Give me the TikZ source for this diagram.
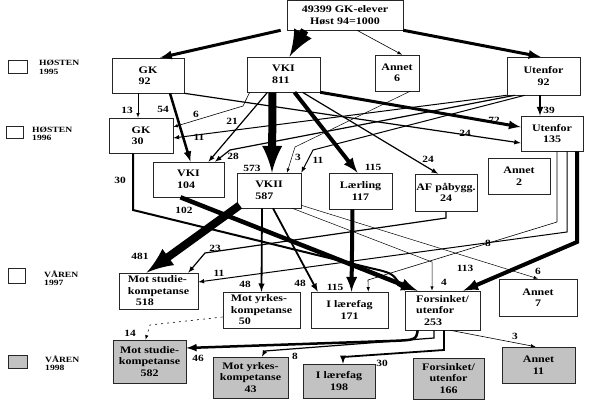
\documentclass[tikz,border=0pt]{standalone}
\usepackage{fontspec}
\setmainfont{Liberation Serif}[FakeStretch=1.2]
\tikzset{
  boks/.style={draw=black!85, line width=0.6pt, align=center, inner sep=1pt,
    font=\bfseries\fontsize{10}{11.5}\selectfont},
  graaboks/.style={boks, fill=black!24},
  tall/.style={font=\bfseries\fontsize{9.5}{9.5}\selectfont, inner sep=0pt},
  merke/.style={font=\bfseries\fontsize{8}{8.5}\selectfont, align=left, anchor=west, inner sep=0pt},
  strom/.style={-latex, line width=#1},
  strom/.default=0.6pt
}
\begin{document}
\begin{tikzpicture}[x=1pt, y=-1pt]
    \useasboundingbox (0,0) rectangle (589,403);

    %Tegnforklaring
    \node[boks, minimum width=19pt, minimum height=13pt] (lg95) at (17.5,66.5) {};
    \node[merke] (h95) at (39,67.5) {HØSTEN\\1995};
    \node[boks, minimum width=17pt, minimum height=12pt] (lg96) at (14.5,132) {};
    \node[merke] (h96) at (32,134) {HØSTEN\\1996};
    \node[boks, minimum width=17pt, minimum height=15pt] (lg97) at (16.5,275.5) {};
    \node[merke] (v97) at (44,278) {VÅREN\\1997};
    \node[graaboks, minimum width=19pt, minimum height=13pt] (lg98) at (17.5,361.5) {};
    \node[merke] (v98) at (45,363) {VÅREN\\1998};

    %Høst 94
    \node[boks, minimum width=116pt, minimum height=30pt] (top) at (345,15) {49399 GK-elever\\Høst 94=1000};

    %Høsten 1995
    \node[boks, align=left, minimum width=72pt, minimum height=35pt] (gk92) at (148,75.5) {GK\\92};
    \node[boks, align=left, minimum width=73pt, minimum height=35pt] (vki811) at (283.5,74.5) {VKI\\811};
    \node[boks, minimum width=44pt, minimum height=36pt] (annet6) at (397,73) {Annet\\6};
    \node[boks, minimum width=73pt, minimum height=38pt] (ut92) at (543.5,76) {Utenfor\\92};

    %Høsten 1996
    \node[boks, align=left, minimum width=64pt, minimum height=35pt] (gk30) at (141,135.5) {GK\\30};
    \node[boks, minimum width=62pt, minimum height=35pt] (ut135) at (552,133.5) {Utenfor\\135};
    \node[boks, align=left, minimum width=71pt, minimum height=35pt] (vki104) at (188.5,179.5) {VKI\\104};
    \node[boks, align=left, minimum width=64pt, minimum height=35pt] (vkii) at (269,190.5) {VKII\\587};
    \node[boks, minimum width=63pt, minimum height=36pt] (laer) at (360.5,191) {Lærling\\117};
    \node[boks, minimum width=62pt, minimum height=37pt] (afp) at (446,192.5) {AF påbygg.\\24};
    \node[boks, minimum width=62pt, minimum height=36pt] (annet2) at (519,176) {Annet\\2};

    %Våren 1997
    \node[boks, align=left, minimum width=79pt, minimum height=36pt] (ms518) at (158.5,291) {Mot studie-\\kompetanse\\\hspace{8pt}518};
    \node[boks, align=left, minimum width=77pt, minimum height=36pt] (my50) at (261.5,310) {Mot yrkes-\\kompetanse\\\hspace{8pt}50};
    \node[boks, minimum width=77pt, minimum height=36pt] (il171) at (349.5,310) {I lærefag\\171};
    \node[boks, align=left, minimum width=75pt, minimum height=39pt] (fu253) at (442.5,310.5) {Forsinket/\\utenfor\\\hspace{8pt}253};
    \node[boks, minimum width=78pt, minimum height=37pt] (annet7) at (538,297.5) {Annet\\7};

    %Våren 1998
    \node[graaboks, minimum width=73pt, minimum height=43pt] (ms582) at (149.5,361.5) {Mot studie-\\kompetanse\\582};
    \node[graaboks, minimum width=75pt, minimum height=41pt] (my43) at (250.5,377.5) {Mot yrkes-\\kompetanse\\43};
    \node[graaboks, minimum width=72pt, minimum height=34pt] (il198) at (339,381) {I lærefag\\198};
    \node[graaboks, minimum width=71pt, minimum height=41pt] (fu166) at (448.5,378.5) {Forsinket/\\utenfor\\166};
    \node[graaboks, minimum width=73pt, minimum height=36pt] (annet11) at (538.5,365) {Annet\\11};

    %Fra Høst 94
    \draw[strom=3pt] ([xshift=-6pt]top.south west) -- ([xshift=12pt]gk92.north);
    \draw[strom=8pt] ([xshift=18pt]top.south west) -- ([xshift=6pt]vki811.north);
    \draw[strom] ([xshift=12pt]top.south) -- ([xshift=5pt]annet6.north);
    \draw[strom=3pt] (top.south east) -- ([xshift=-3pt]ut92.north);

    %Fra GK 92
    \draw[strom] ([xshift=-10pt]gk92.south) -- ([xshift=-3pt]gk30.north);
    \node[tall] (t13) at (127,110) {13};
    \draw[strom=2.5pt] ([xshift=22pt]gk92.south) -- ([xshift=2pt]vki104.north);
    \node[tall] (t54) at (163,109) {54};
    \draw[strom=1.2pt] (gk92.south east) -- ([yshift=-9.5pt]ut135.west);
    \node[tall] (t24a) at (465,133) {24};

    %Fra VKI 811
    \draw[strom=8pt] ([xshift=-11pt]vki811.south) -- ([xshift=3pt]vkii.north);
    \node[tall] (t573) at (252,168) {573};
    \draw[strom=4pt] ([xshift=11pt]vki811.south) -- ([xshift=-3pt]laer.north);
    \node[tall] (t115a) at (373,167) {115};
    \draw[strom=3pt] (vki811.south east) -- ([yshift=6.5pt]ut135.west);
    \node[tall] (t72) at (494,120) {72};
    \draw[strom=1.2pt] ([xshift=-16pt]vki811.south) -- ([xshift=20pt]vki104.north);
    \node[tall] (t21) at (232,121) {21};
    \draw[strom] ([xshift=3pt]vki811.south west) -- (243,106) -- ([yshift=8.5pt]gk30.east);
    \node[tall] (t6a) at (196,114) {6};
    \draw[strom=1.2pt] ([xshift=19pt]vki811.south) -- ([xshift=-8pt]afp.north);
    \node[tall] (t24b) at (428,159) {24};

    %Fra Annet 6
    \draw[strom=0.5pt] ([xshift=13pt]annet6.south) -- (295,147) -- ([xshift=18pt]vkii.north);
    \node[tall] (t3a) at (298,157) {3};

    %Fra Utenfor 92
    \draw[strom=1pt] (ut92.south west) -- ([yshift=-2.5pt]gk30.east);
    \node[tall] (t11a) at (199,137) {11};
    \draw[strom=1.2pt] ([xshift=8pt]ut92.south west) -- (230,150) -- ([xshift=26.5pt]vki104.north);
    \node[tall] (t28) at (233,156) {28};
    \draw[strom=1pt] ([xshift=18pt]ut92.south west) -- (313,150) -- (vkii.north east);
    \node[tall] (t11b) at (318,160) {11};
    \draw[strom=2pt] ([xshift=-3.5pt]ut92.south) -- ([xshift=-12pt]ut135.north);
    \node[tall] (t39) at (549,110) {39};

    %Fra GK 30 og VKI 104
    \draw[strom=2pt] ([xshift=-8pt]gk30.south) -- (133,210) -- (370,268) .. controls (392,273) .. (fu253.north west);
    \node[tall] (t30a) at (120,180) {30};
    \draw[strom=4.5pt] ([xshift=-8pt]vki104.south) -- ([xshift=-25pt]fu253.north);
    \node[tall] (t102) at (184,210) {102};

    %Fra VKII 587
    \draw[strom=8pt] ([xshift=3pt,yshift=3pt]vkii.south west) -- ([xshift=-12pt]ms518.north);
    \node[tall] (t481) at (140,256) {481};
    \draw[strom=1.8pt] ([xshift=-7pt]vkii.south) -- (my50.north);
    \node[tall] (t48a) at (245,284) {48};
    \draw[strom=1.8pt] ([xshift=4pt]vkii.south) -- ([xshift=7pt]il171.north west);
    \node[tall] (t48b) at (300,283) {48};
    \draw[strom=0.5pt] ([xshift=-9pt]vkii.south east) -- (432,262) -- ([xshift=-10.5pt]fu253.north);
    \node[tall] (t4) at (444,282) {4};
    \draw[strom=0.5pt] ([yshift=3pt]vkii.south east) -- (annet7.north);
    \node[tall] (t6b) at (538,271) {6};

    %Fra Lærling og AF påbygg.
    \draw[strom=4pt] ([xshift=-8pt]laer.south) -- ([xshift=2pt]il171.north);
    \node[tall] (t115b) at (335,287) {115};
    \draw[strom=1.2pt] (afp.south) -- (446,218) -- (205,253) -- ([xshift=-10pt]ms518.north east);
    \node[tall] (t23) at (215,248) {23};

    %Fra Utenfor 135
    \draw[strom=1pt] ([xshift=15pt]ut135.south) -- (567,232) -- ([yshift=9pt]ms518.east);
    \node[tall] (t11c) at (219,273) {11};
    \draw[strom] ([xshift=5pt]ut135.south) -- (557,222) -- (368,280) -- ([xshift=-20pt]il171.north east);
    \node[tall] (t8a) at (488,243) {8};
    \draw[strom=4pt] ([xshift=25pt]ut135.south) -- (577,242) -- ([xshift=-17pt]fu253.north east);
    \node[tall] (t113) at (465,268) {113};

    %Fra Mot yrkeskompetanse 50
    \draw[strom, dash pattern=on 2pt off 4pt] ([yshift=-7pt]my50.west) -- (150,325) -- ([xshift=-4pt]ms582.north);
    \node[tall] (t14) at (130,333) {14};

    %Fra Forsinket/utenfor 253
    \draw[strom=2.5pt] ([xshift=13pt]fu253.south west) .. controls (416,340) .. (390,341) -- ([yshift=13.5pt]ms582.east);
    \node[tall] (t46) at (198,358) {46};
    \draw[strom=1.2pt] ([xshift=-8.5pt]fu253.south) -- (434,338) -- (265,351) -- ([xshift=11.5pt]my43.north);
    \node[tall] (t8b) at (295,356) {8};
    \draw[strom=1.8pt] ([xshift=1.5pt]fu253.south) -- (444,350) -- (343,357) -- ([xshift=4pt]il198.north);
    \node[tall] (t30b) at (382,363) {30};
    \draw[strom] ([xshift=-30pt]fu253.south east) -- ([xshift=-3pt]annet11.north);
    \node[tall] (t3b) at (515,336) {3};

\end{tikzpicture}
\end{document}
